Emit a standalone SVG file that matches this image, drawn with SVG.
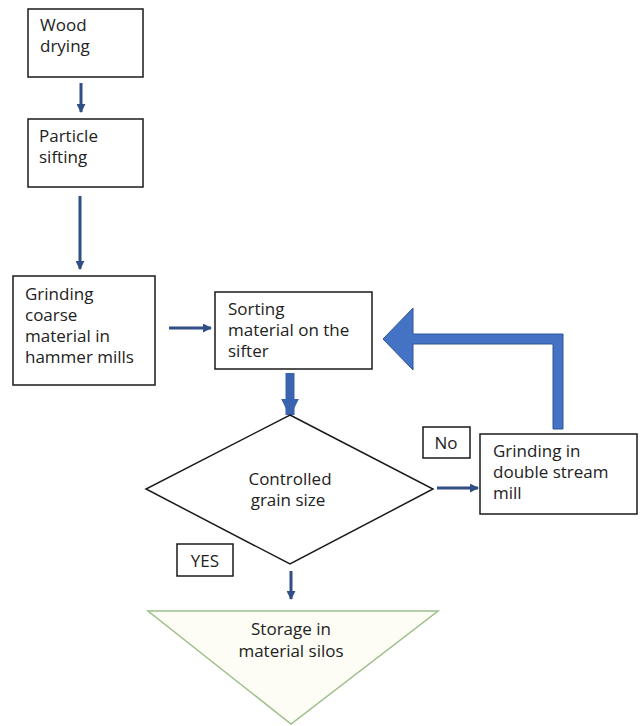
<svg xmlns="http://www.w3.org/2000/svg" width="640" height="726" viewBox="0 0 640 726">
<defs>
<marker id="ah" viewBox="0 0 10 10" refX="9" refY="5" markerWidth="3" markerHeight="3" orient="auto" markerUnits="strokeWidth">
<path d="M0,0 L10,5 L0,10 z" fill="#2f4f86"/>
</marker>
<marker id="ah2" viewBox="0 0 10 10" refX="9" refY="5" markerWidth="2" markerHeight="2" orient="auto" markerUnits="strokeWidth">
<path d="M0,0 L10,5 L0,10 z" fill="#3a63b0"/>
</marker>
</defs>
<style>
.box{fill:#fff;stroke:#1a1a1a;stroke-width:1.5}
.t{font-family:"Open Sans","DejaVu Sans",sans-serif;font-size:17px;fill:#222}
.c{text-anchor:middle}
.ln{stroke:#2f4f86;fill:none;stroke-width:3}
</style>
<rect width="640" height="726" fill="#fff"/>
<g id="connectors">
<line class="ln" x1="81" y1="83" x2="81" y2="112" stroke-width="4" marker-end="url(#ah)"/>
<line class="ln" x1="80" y1="196" x2="80" y2="269" marker-end="url(#ah)"/>
<line class="ln" x1="169" y1="328" x2="211" y2="328" marker-end="url(#ah)"/>
<line x1="290" y1="373" x2="290" y2="415" stroke="#3a63b0" stroke-width="9" marker-end="url(#ah2)"/>
<line class="ln" x1="437" y1="488" x2="478" y2="488" marker-end="url(#ah)"/>
<line class="ln" x1="291" y1="571" x2="291" y2="599" marker-end="url(#ah)"/>
<path d="M383,339 L413,308 L413,334 L563,334 L563,429 L553,429 L553,344 L413,344 L413,370 Z" fill="#4472c4" stroke="#2f5597" stroke-width="1"/>
</g>
<g id="wood-drying">
<rect class="box" x="28" y="9" width="115" height="68"/>
<text class="t" x="40" y="31">Wood</text>
<text class="t" x="40" y="52">drying</text>
</g>
<g id="particle-sifting">
<rect class="box" x="28" y="119" width="115" height="68"/>
<text class="t" x="39" y="142">Particle</text>
<text class="t" x="39" y="163">sifting</text>
</g>
<g id="grinding-hammer">
<rect class="box" x="13" y="276" width="142" height="109"/>
<text class="t" x="25" y="300">Grinding</text>
<text class="t" x="25" y="321">coarse</text>
<text class="t" x="25" y="342">material in</text>
<text class="t" x="25" y="363">hammer mills</text>
</g>
<g id="sorting">
<rect class="box" x="215" y="292" width="157" height="77"/>
<text class="t" x="228" y="315">Sorting</text>
<text class="t" x="228" y="336">material on the</text>
<text class="t" x="228" y="357">sifter</text>
</g>
<g id="controlled">
<polygon class="box" points="290,415 433,489 290,564 146,489"/>
<text class="t c" x="290" y="485">Controlled</text>
<text class="t c" x="288" y="506">grain size</text>
</g>
<g id="yes-label">
<rect class="box" x="177" y="544" width="56" height="32"/>
<text class="t c" x="205" y="567">YES</text>
</g>
<g id="no-label">
<rect class="box" x="423" y="427" width="47" height="31"/>
<text class="t c" x="446" y="449">No</text>
</g>
<g id="grinding-double">
<rect class="box" x="480" y="434" width="157" height="80"/>
<text class="t" x="493" y="457">Grinding in</text>
<text class="t" x="493" y="478">double stream</text>
<text class="t" x="493" y="499">mill</text>
</g>
<g id="storage">
<polygon points="148,611 438,611 291,724" fill="#fdfdf6" stroke="#9cbf8a" stroke-width="1.5"/>
<text class="t c" x="291" y="635">Storage in</text>
<text class="t c" x="291" y="657">material silos</text>
</g>
</svg>
